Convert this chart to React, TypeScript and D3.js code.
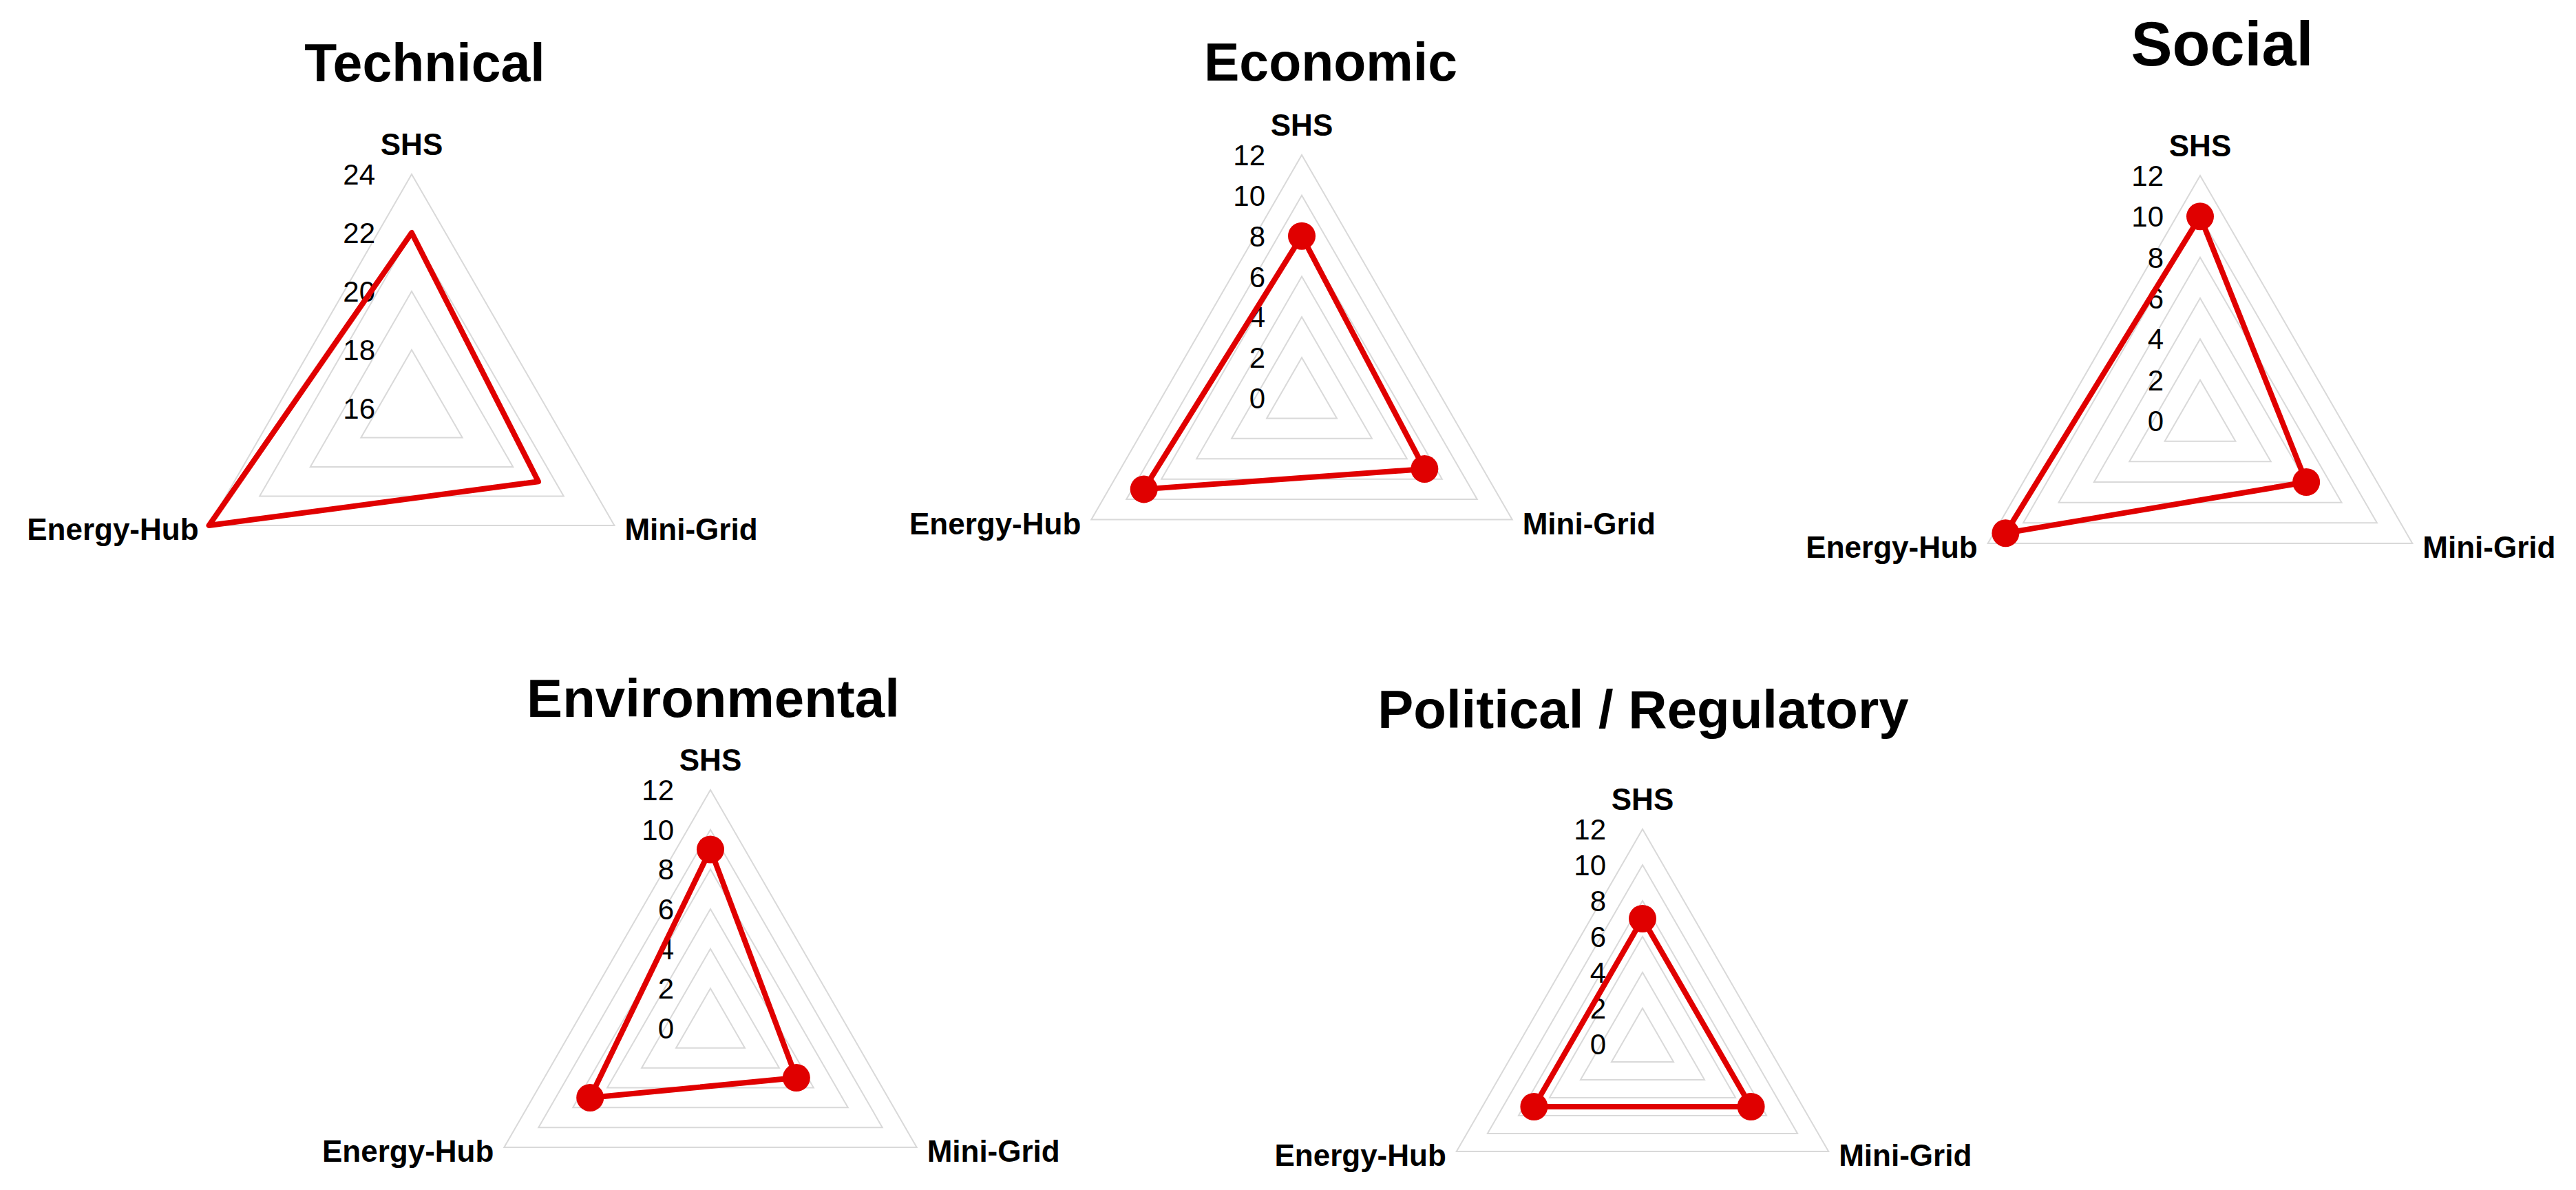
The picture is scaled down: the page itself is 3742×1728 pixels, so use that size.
import { useEffect, useRef } from "react";
import * as d3 from "d3";

// Axes in drawing order: top, lower left, lower right
const axes = ["SHS", "Energy-Hub", "Mini-Grid"];

// Scores per dimension, same order as axes
const technicalValues = [22, 24, 21];
const economicValues = [8, 9, 7];
const socialValues = [10, 11, 6];
const environmentalValues = [9, 7, 5];
const politicalValues = [7, 7, 7];

// Tick labels of the radial axis
const technicalTicks = [16, 18, 20, 22, 24];
const scoreTicks = [0, 2, 4, 6, 8, 10, 12];

const titles = ["Technical", "Economic", "Social", "Environmental", "Political / Regulatory"];

const width = 3742;
const height = 1728;
const red = "#e00000";
const gridColor = "#d9d9d9";
const font = "'Liberation Sans', Arial, sans-serif";

// Placement of each small chart (center, radius, title)
const panels = [
    { title: titles[0], values: technicalValues, ticks: technicalTicks, cx: 598, cy: 593, r: 340, tx: 617, ty: 118, ts: 77, dots: false },
    { title: titles[1], values: economicValues, ticks: scoreTicks, cx: 1891, cy: 578, r: 353, tx: 1933, ty: 117, ts: 77, dots: true },
    { title: titles[2], values: socialValues, ticks: scoreTicks, cx: 3196, cy: 611, r: 356, tx: 3228, ty: 95, ts: 90, dots: true },
    { title: titles[3], values: environmentalValues, ticks: scoreTicks, cx: 1032, cy: 1493, r: 346, tx: 1036, ty: 1041, ts: 78, dots: true },
    { title: titles[4], values: politicalValues, ticks: scoreTicks, cx: 2386, cy: 1516, r: 312, tx: 2387, ty: 1057, ts: 78, dots: true },
];

// angle clockwise from 12 o'clock, axes run counter-clockwise
const angle = (i: number) => -i * (2 * Math.PI / axes.length);

const drawPanel = (svg, p) => {
    const rScale = d3.scaleLinear()
        .domain([p.ticks[0], p.ticks[p.ticks.length - 1]])
        .range([0, p.r]);

    const g = svg.append("g")
        .attr("transform", `translate(${p.cx},${p.cy})`);

    // grid triangles
    const radial = d3.lineRadial<number>()
        .angle((_, i) => angle(i))
        .radius(d => rScale(d))
        .curve(d3.curveLinearClosed);

    g.append("g")
        .selectAll("path")
        .data(p.ticks.slice(1))
        .join("path")
        .attr("d", t => radial(axes.map(() => t)))
        .attr("fill", "none")
        .attr("stroke", gridColor)
        .attr("stroke-width", 2);

    // tick labels
    g.append("g")
        .attr("font-family", font)
        .attr("font-size", 42)
        .attr("text-anchor", "end")
        .selectAll("text")
        .data(p.ticks)
        .join("text")
        .attr("x", -53)
        .attr("y", t => -rScale(t))
        .attr("dy", "0.36em")
        .text(t => t);

    // axis labels
    const outer = rScale.range()[1];
    const labelPos = [
        { x: 0, y: -outer - 28, anchor: "middle" },
        { x: -outer * Math.cos(Math.PI / 6) - 15, y: outer / 2 + 21, anchor: "end" },
        { x: outer * Math.cos(Math.PI / 6) + 15, y: outer / 2 + 21, anchor: "start" },
    ];
    g.append("g")
        .attr("font-family", font)
        .attr("font-size", 44)
        .attr("font-weight", "bold")
        .selectAll("text")
        .data(axes)
        .join("text")
        .attr("x", (_, i) => labelPos[i].x)
        .attr("y", (_, i) => labelPos[i].y)
        .attr("text-anchor", (_, i) => labelPos[i].anchor)
        .text(d => d);

    // data polygon
    g.append("path")
        .attr("d", radial(p.values))
        .attr("fill", "none")
        .attr("stroke", red)
        .attr("stroke-width", 8)
        .attr("stroke-linejoin", "round");

    if (p.dots) {
        g.append("g")
            .selectAll("circle")
            .data(p.values)
            .join("circle")
            .attr("cx", (d, i) => rScale(d) * Math.sin(angle(i)))
            .attr("cy", (d, i) => -rScale(d) * Math.cos(angle(i)))
            .attr("r", 20)
            .attr("fill", red);
    }

    // title
    svg.append("text")
        .attr("x", p.tx)
        .attr("y", p.ty)
        .attr("text-anchor", "middle")
        .attr("font-family", font)
        .attr("font-size", p.ts)
        .attr("font-weight", "bold")
        .text(p.title);
};

export default function App() {
    const ref = useRef<SVGSVGElement>(null);

    useEffect(() => {
        const svg = d3.select(ref.current);
        svg.selectAll("*").remove();
        svg.append("rect")
            .attr("width", width)
            .attr("height", height)
            .attr("fill", "white");
        panels.forEach(p => drawPanel(svg, p));
    }, []);

    return (
        <svg
            ref={ref}
            width={width}
            height={height}
            style={{ position: "absolute", left: 0, top: 0, display: "block" }}
        />
    );
}
